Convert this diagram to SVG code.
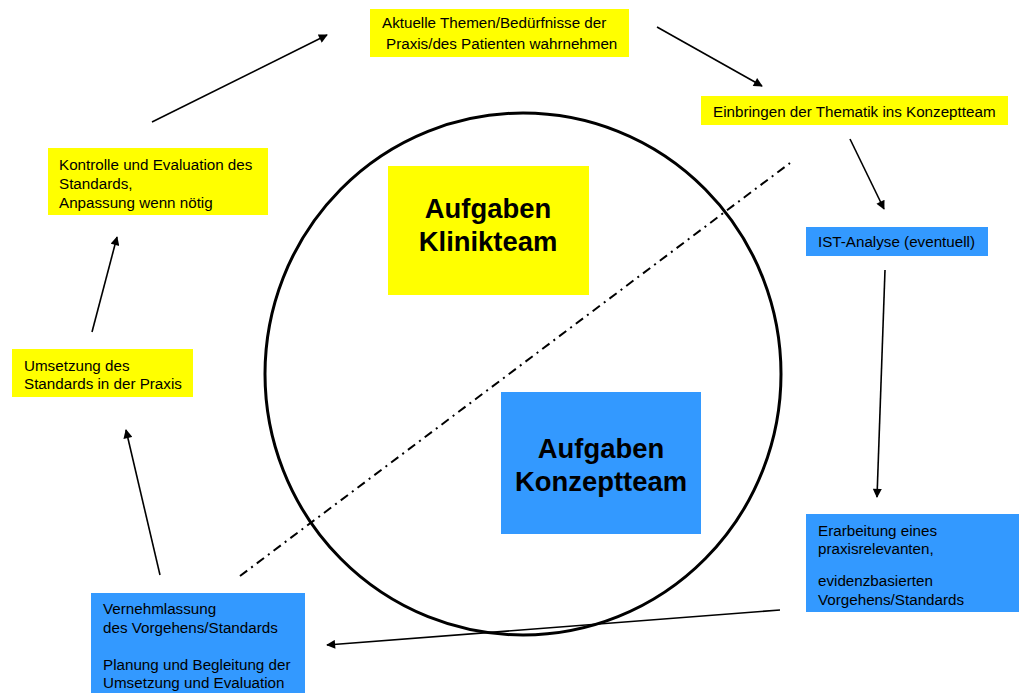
<svg xmlns="http://www.w3.org/2000/svg" width="1019" height="693" viewBox="0 0 1019 693">
<style>
.y{fill:#ffff00}
.b{fill:#3399ff}
text{font-family:"Liberation Sans",Arial,sans-serif;fill:#000}
.t{font-size:15.2px}
.h{font-size:27.4px;font-weight:bold;text-anchor:middle}
.c{fill:none;stroke:#000;stroke-width:1.6;marker-end:url(#ah)}
</style>
<defs>
<marker id="ah" viewBox="0 0 10 10" refX="9" refY="5" markerWidth="10" markerHeight="9" markerUnits="userSpaceOnUse" orient="auto"><path d="M0,0L10,5L0,10z" fill="#000"/></marker>
</defs>
<rect width="1019" height="693" fill="#fff"/>
<g id="circle">
<ellipse cx="523" cy="374" rx="258" ry="261" fill="none" stroke="#000" stroke-width="3"/>
<line x1="240" y1="576" x2="790" y2="163" stroke="#000" stroke-width="2" stroke-dasharray="9,5,2,5"/>
</g>
<g id="klinikteam"><rect class="y" x="388" y="166" width="201" height="129"/><text class="h" x="488" y="218">Aufgaben</text><text class="h" x="488" y="251">Klinikteam</text></g>
<g id="konzeptteam"><rect class="b" x="501" y="392" width="200" height="142"/><text class="h" x="601" y="458">Aufgaben</text><text class="h" x="601" y="491">Konzeptteam</text></g>
<g id="n1"><rect class="y" x="370" y="9" width="259" height="48"/><text class="t" x="382" y="28">Aktuelle Themen/Bedürfnisse der</text><text class="t" x="386" y="49">Praxis/des Patienten wahrnehmen</text></g>
<g id="n2"><rect class="y" x="701" y="96" width="307" height="29"/><text class="t" x="713" y="116.5">Einbringen der Thematik ins Konzeptteam</text></g>
<g id="n3"><rect class="b" x="806" y="227" width="182" height="29"/><text class="t" x="818" y="247">IST-Analyse (eventuell)</text></g>
<g id="n4"><rect class="b" x="806" y="514" width="213" height="98"/><text class="t" x="818" y="536">Erarbeitung eines</text><text class="t" x="818" y="554">praxisrelevanten,</text><text class="t" x="818" y="586">evidenzbasierten</text><text class="t" x="818" y="605">Vorgehens/Standards</text></g>
<g id="n5"><rect class="b" x="91" y="593" width="214" height="100"/><text class="t" x="103" y="614">Vernehmlassung</text><text class="t" x="103" y="633">des Vorgehens/Standards</text><text class="t" x="103" y="670">Planung und Begleitung der</text><text class="t" x="103" y="688">Umsetzung und Evaluation</text></g>
<g id="n6"><rect class="y" x="12" y="349" width="181" height="48"/><text class="t" x="24" y="371">Umsetzung des</text><text class="t" x="24" y="389">Standards in der Praxis</text></g>
<g id="n7"><rect class="y" x="48" y="148" width="220" height="67"/><text class="t" x="59" y="170">Kontrolle und Evaluation des</text><text class="t" x="59" y="189">Standards,</text><text class="t" x="59" y="208">Anpassung wenn nötig</text></g>
<g id="connectors">
<line class="c" x1="152" y1="122" x2="327" y2="35"/>
<line class="c" x1="657" y1="27" x2="762" y2="86"/>
<line class="c" x1="850" y1="139" x2="884" y2="209"/>
<line class="c" x1="885" y1="270" x2="877" y2="497"/>
<line class="c" x1="780" y1="610" x2="327" y2="645"/>
<line class="c" x1="160" y1="575" x2="126" y2="430"/>
<line class="c" x1="92" y1="332" x2="117" y2="237"/>
</g>
</svg>
